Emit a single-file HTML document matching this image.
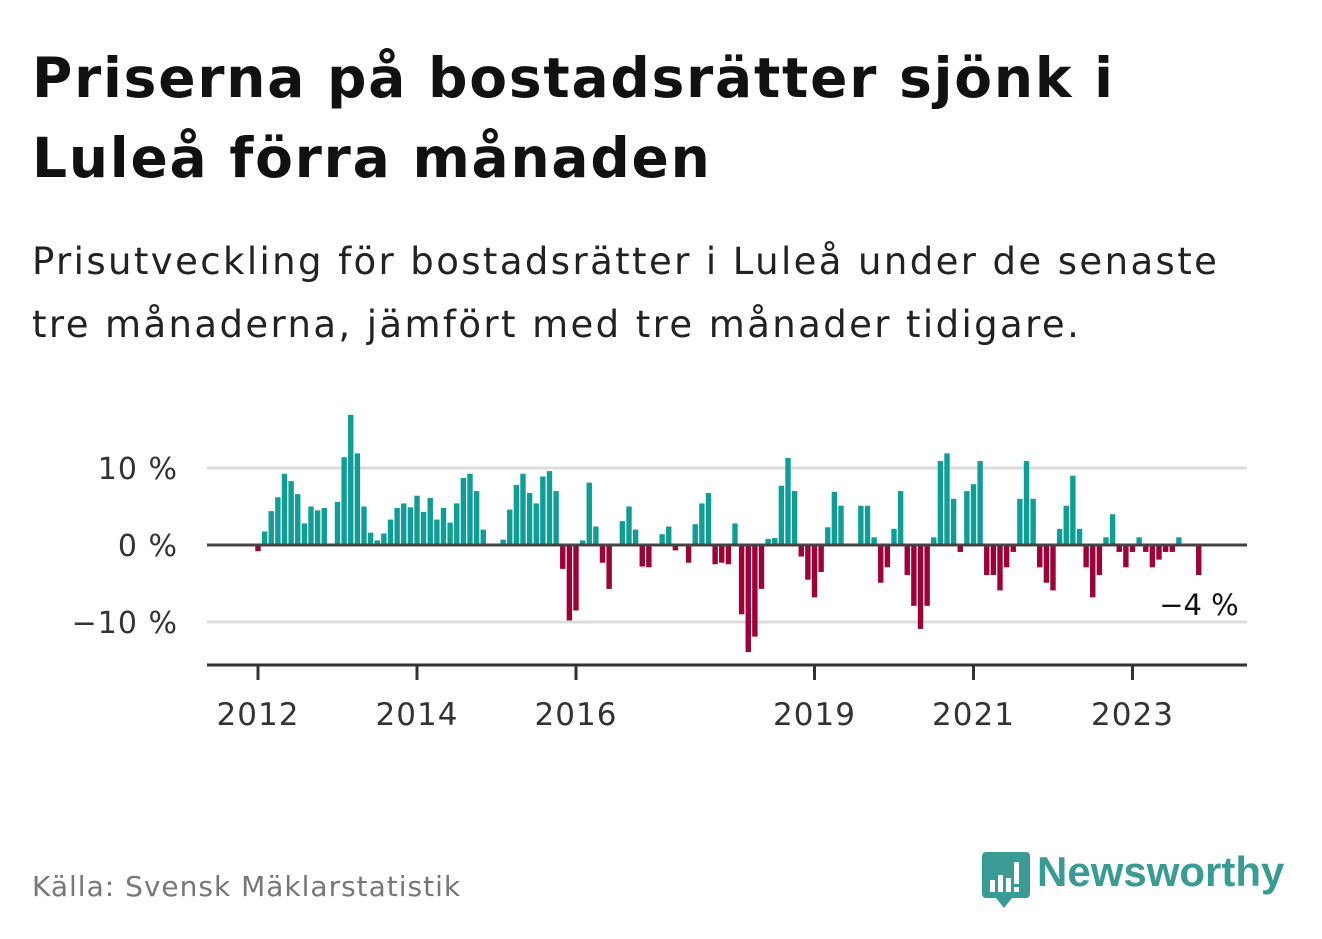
<!DOCTYPE html>
<html><head><meta charset="utf-8">
<style>
body{margin:0;background:#fff;width:1322px;height:939px;overflow:hidden;font-family:"DejaVu Sans",sans-serif;}
#title{position:absolute;left:32px;top:38px;font-size:55px;letter-spacing:1.8px;font-weight:bold;line-height:80px;color:#111;margin:0;white-space:nowrap}
#sub{position:absolute;left:32px;top:230px;font-size:37px;letter-spacing:2.4px;line-height:63px;color:#222;margin:0;white-space:nowrap}
#src{position:absolute;left:32px;top:870px;font-size:28px;letter-spacing:1px;color:#777}
#logo{position:absolute;left:982px;top:850px}
#logotext{position:absolute;left:1037px;top:848px;font-size:42px;font-weight:bold;color:#3a9a94;font-family:"Liberation Sans",sans-serif}
svg{position:absolute;left:0;top:0}
</style></head><body>
<h1 id="title">Priserna på bostadsrätter sjönk i<br>Luleå förra månaden</h1>
<p id="sub">Prisutveckling för bostadsrätter i Luleå under de senaste<br>tre månaderna, jämfört med tre månader tidigare.</p>
<svg id="chart" width="1322" height="939"></svg>
<div id="src">Källa: Svensk Mäklarstatistik</div>
<svg id="logo" width="50" height="60">
<path d="M4 2h40a4 4 0 0 1 4 4v38a4 4 0 0 1-4 4H30l-8 10-8-10H4a4 4 0 0 1-4-4V6a4 4 0 0 1 4-4z" fill="#3a9a94"/>
<rect x="8" y="30" width="5" height="12" fill="#fff"/><rect x="16" y="25" width="5" height="17" fill="#fff"/><rect x="24" y="28" width="5" height="14" fill="#fff"/><rect x="32" y="12" width="5" height="22" fill="#fff"/><rect x="32" y="37" width="5" height="5" fill="#fff"/>
</svg>
<div id="logotext">Newsworthy</div>
<script>
const yTicks=[10,0,-10];
const yTickLabels=["10 %","0 %","−10 %"];
const xTickYears=[2012,2014,2016,2019,2021,2023];
const values=[-0.8,1.75,4.4,6.2,9.25,8.3,6.6,2.8,5.0,4.5,4.8,0,
5.6,11.4,16.9,11.9,5.0,1.6,0.6,1.5,3.3,4.8,5.4,4.9,
6.4,4.3,6.1,3.3,4.8,2.9,5.4,8.7,9.25,7.0,2.0,0,
0,0.7,4.6,7.8,9.25,6.75,5.4,8.9,9.6,7.0,-3.1,-9.8,
-8.5,0.6,8.1,2.4,-2.3,-5.7,0,3.1,5.0,2.0,-2.8,-2.9,
0,1.4,2.4,-0.7,0,-2.3,2.7,5.4,6.75,-2.5,-2.3,-2.5,
2.8,-9.0,-13.9,-11.9,-5.7,0.8,0.9,7.7,11.3,7.0,-1.5,-4.5,
-6.8,-3.5,2.3,6.9,5.1,0,0,5.1,5.1,1.0,-4.9,-2.9,
2.1,7.0,-3.9,-7.9,-10.9,-7.9,1.0,10.9,11.9,6.0,-0.9,7.0,
7.9,10.9,-3.9,-3.9,-5.9,-2.9,-0.9,6.0,10.9,6.0,-2.9,-4.9,
-5.9,2.1,5.1,9.0,2.1,-2.9,-6.8,-3.9,1.0,4.0,-0.9,-2.9,
-0.9,1.0,-0.9,-2.9,-1.9,-0.9,-0.9,1.0,0,0,-3.9];
const lastLabel="−4 %";
const NS="http://www.w3.org/2000/svg";
const svg=document.getElementById('chart');
const x=i=>258+6.625*i;
const y=v=>545-7.7*v;
const X0=207,X1=1247;
const FF='DejaVu Sans, sans-serif';
function mk(t,a,p){const e=document.createElementNS(NS,t);for(const k in a)e.setAttribute(k,a[k]);(p||svg).appendChild(e);return e;}
yTicks.forEach((v,k)=>{
  if(v!==0){const g=mk('line',{x1:X0,x2:X1,y1:y(v),y2:y(v),stroke:'#dcdcdc','stroke-width':3});
  
  }
  const t=mk('text',{x:178,y:y(v)+11,'text-anchor':'end','font-size':30,'letter-spacing':1,fill:'#333','font-family':FF});
  t.textContent=yTickLabels[k];
  
  
});
values.forEach((v,i)=>{
  if(v===0)return;
  const r=mk('rect',{x:x(i)-2.7,width:5.4,y:v>0?y(v):y(0),height:Math.abs(y(v)-y(0)),fill:v>0?'#0f9e96':'#9c0036'});
  
  
});
const zl=mk('line',{x1:X0,x2:X1,y1:y(0),y2:y(0),stroke:'#444','stroke-width':3});


const ax=mk('line',{x1:X0,x2:X1,y1:665,y2:665,stroke:'#333','stroke-width':3});


xTickYears.forEach(yr=>{
  const xi=x((yr-2012)*12);
  const tk=mk('line',{x1:xi,x2:xi,y1:665,y2:680,stroke:'#333','stroke-width':3});
  
  
  const t=mk('text',{x:xi,y:725,'text-anchor':'middle','font-size':31,'letter-spacing':1,fill:'#333','font-family':FF});
  t.textContent=yr;
  
  
});
const li=values.length-1;
const lb=mk('text',{x:x(li)+40,y:y(values[li])+40,'text-anchor':'end','font-size':29,fill:'#111',stroke:'#fff','stroke-width':6,'paint-order':'stroke','font-family':FF});
lb.textContent=lastLabel;


</script>
</body></html>
